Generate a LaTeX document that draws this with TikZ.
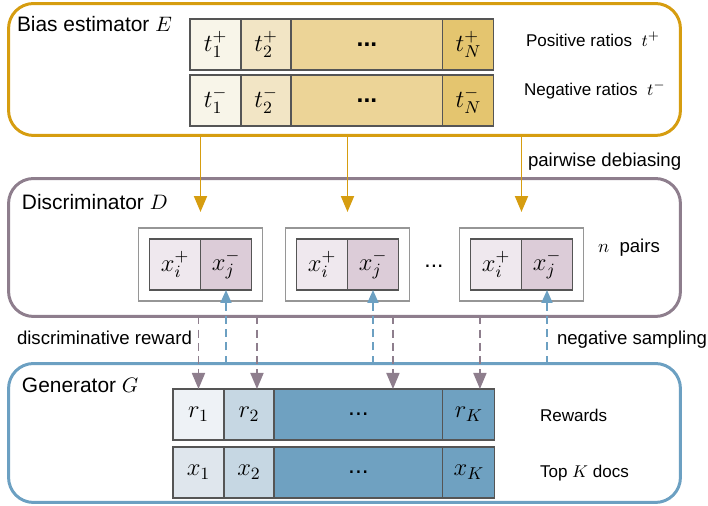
\RequirePackage{fix-cm}
\documentclass[tikz,border=0pt]{standalone}
\usepackage{fontspec}
\setmainfont{Liberation Sans}
\usepackage{xcolor}
\usepackage{tikz}
\usetikzlibrary{chains, positioning, arrows.meta, fit}

\definecolor{estgold}{RGB}{214,157,16}
\definecolor{discgray}{RGB}{142,126,141}
\definecolor{genblue}{RGB}{108,160,194}
\definecolor{cellgray}{RGB}{85,85,85}
\definecolor{pairgray}{RGB}{150,150,150}
\definecolor{tonefill}{RGB}{248,245,233}
\definecolor{ttwofill}{RGB}{242,229,197}
\definecolor{tdotfill}{RGB}{236,212,151}
\definecolor{tlastfill}{RGB}{228,197,111}
\definecolor{xposfill}{RGB}{239,232,238}
\definecolor{xnegfill}{RGB}{220,204,216}
\definecolor{ronefill}{RGB}{238,242,246}
\definecolor{xonefill}{RGB}{223,230,237}
\definecolor{twofill}{RGB}{198,215,227}
\definecolor{deepblue}{RGB}{111,161,193}

\begin{document}
\begin{tikzpicture}[
    x = 0.02cm, y = -0.02cm,
    node distance = 0pt,
    outer sep = 0pt,
    panel/.style = {
        draw, line width=1.7pt, rounded corners=0.5cm,
        minimum width=13.44cm, inner sep=0pt
    },
    cell/.style = {
        draw=cellgray, line width=0.6pt, minimum height=1.02cm,
        minimum width=1.02cm, inner sep=0pt,
        font=\fontsize{14}{16}\selectfont
    },
    paneltitle/.style = {anchor=base west, inner sep=0pt, font=\fontsize{11.9}{14}\selectfont},
    flowtext/.style = {anchor=base west, inner sep=0pt, font=\fontsize{10.6}{13}\selectfont},
    sidetext/.style = {anchor=base west, inner sep=0pt, font=\fontsize{9.7}{12}\selectfont},
    goldarrow/.style = {-{Triangle[width=0.26cm, length=0.32cm]}, estgold, line width=1.1pt},
    rewardline/.style = {-{Triangle[width=0.26cm, length=0.32cm]}, discgray, line width=1pt,
        dash pattern=on 4.5pt off 3pt},
    sampline/.style = {-{Triangle[width=0.22cm, length=0.26cm]}, genblue, line width=1pt,
        dash pattern=on 4.5pt off 3pt}
  ]
    \useasboundingbox (0,0) rectangle (708,506);

    % three panels
    \node[panel, draw=estgold, minimum height=2.64cm] (est) at (344.5,69.5) {};
    \node[panel, draw=discgray, minimum height=2.76cm] (disc) at (344.5,247.5) {};
    \node[panel, draw=genblue, minimum height=2.78cm] (gen) at (344.5,433) {};

    \node[paneltitle] (esttitle) at (17,32) {Bias estimator $E$};
    \node[paneltitle] (disctitle) at (22,210) {Discriminator $D$};
    \node[paneltitle] (gentitle) at (22,393) {Generator $G$};

    % ratios t+ and t-
    \begin{scope}[start chain=tp going right]
        \node[cell, on chain, fill=tonefill, anchor=north west] (tp1) at (190,19) {$t_1^+$};
        \node[cell, on chain, fill=ttwofill, minimum width=1.0cm] (tp2) {$t_2^+$};
        \node[cell, on chain, fill=tdotfill, minimum width=3.04cm] (tpdots) {\bfseries ...};
        \node[cell, on chain, fill=tlastfill] (tpN) {$t_N^+$};
    \end{scope}
    \begin{scope}[start chain=tm going right]
        \node[cell, on chain, fill=tonefill, below=0.1cm of tp1] (tm1) {$t_1^-$};
        \node[cell, on chain, fill=ttwofill, minimum width=1.0cm] (tm2) {$t_2^-$};
        \node[cell, on chain, fill=tdotfill, minimum width=3.04cm] (tmdots) {\bfseries ...};
        \node[cell, on chain, fill=tlastfill] (tmN) {$t_N^-$};
    \end{scope}
    \node[sidetext] (poslabel) at (526,47) {Positive ratios\ \ $t^+$};
    \node[sidetext] (neglabel) at (524,96) {Negative ratios\ \ $t^-$};

    % n pairs in the discriminator
    \node[cell, fill=xposfill, anchor=east] (xi1) at (200.5,264.5) {$x_i^+$};
    \node[cell, fill=xnegfill, right=of xi1] (xj1) {$x_j^-$};
    \node[draw=pairgray, line width=0.9pt, inner sep=0.22cm, fit=(xi1)(xj1)] (pr1) {};
    \node[cell, fill=xposfill, anchor=east] (xi2) at (347.5,264.5) {$x_i^+$};
    \node[cell, fill=xnegfill, right=of xi2] (xj2) {$x_j^-$};
    \node[draw=pairgray, line width=0.9pt, inner sep=0.22cm, fit=(xi2)(xj2)] (pr2) {};
    \node[cell, fill=xposfill, anchor=east] (xi3) at (521.5,264.5) {$x_i^+$};
    \node[cell, fill=xnegfill, right=of xi3] (xj3) {$x_j^-$};
    \node[draw=pairgray, line width=0.9pt, inner sep=0.22cm, fit=(xi3)(xj3)] (pr3) {};
    \node[font=\fontsize{13}{15}\selectfont] (prdots) at (434,266) {...};
    \node[flowtext] (npairs) at (598,253) {$n$ \ pairs};

    % rewards and top K docs
    \begin{scope}[start chain=rw going right]
        \node[cell, on chain, fill=ronefill, anchor=north west] (r1) at (173,389) {$r_1$};
        \node[cell, on chain, fill=twofill, minimum width=1.0cm] (r2) {$r_2$};
        \node[cell, on chain, fill=deepblue, minimum width=3.38cm] (rdots) {...};
        \node[cell, on chain, fill=deepblue, minimum width=1.04cm] (rK) {$r_K$};
    \end{scope}
    \begin{scope}[start chain=dc going right]
        \node[cell, on chain, fill=xonefill, below=0.14cm of r1] (x1) {$x_1$};
        \node[cell, on chain, fill=twofill, minimum width=1.0cm] (x2) {$x_2$};
        \node[cell, on chain, fill=deepblue, minimum width=3.38cm] (xdots) {...};
        \node[cell, on chain, fill=deepblue, minimum width=1.04cm] (xK) {$x_K$};
    \end{scope}
    \node[sidetext] (rwlabel) at (540,422) {Rewards};
    \node[sidetext] (doclabel) at (540,478) {Top $K$ docs};

    % pairwise debiasing
    \draw[goldarrow] (est.south -| pr1.north) -- ([yshift=0.32cm]pr1.north);
    \draw[goldarrow] (est.south -| pr2.north) -- ([yshift=0.32cm]pr2.north);
    \draw[goldarrow] (est.south -| pr3.north) -- ([yshift=0.32cm]pr3.north);
    \node[flowtext] (debias) at (528,167) {pairwise debiasing};

    % rewards back to the generator
    \coordinate (rw2) at ([xshift=0.16cm]r2.north);
    \coordinate (rw3) at ([xshift=0.69cm]rdots.north);
    \coordinate (rw4) at ([xshift=0.22cm]rK.north);
    \draw[rewardline] (disc.south -| r1.north) -- (r1.north);
    \draw[rewardline] (disc.south -| rw2) -- (rw2);
    \draw[rewardline] (disc.south -| rw3) -- (rw3);
    \draw[rewardline] (disc.south -| rw4) -- (rw4);
    \node[flowtext] (rwtext) at (17,345) {discriminative reward};

    % negative sampling
    \draw[sampline] (gen.north -| xj1.south) -- (xj1.south);
    \draw[sampline] (gen.north -| xj2.south) -- (xj2.south);
    \draw[sampline] (gen.north -| xj3.south) -- (xj3.south);
    \node[flowtext] (samptext) at (557,345) {negative sampling};
\end{tikzpicture}
\end{document}
